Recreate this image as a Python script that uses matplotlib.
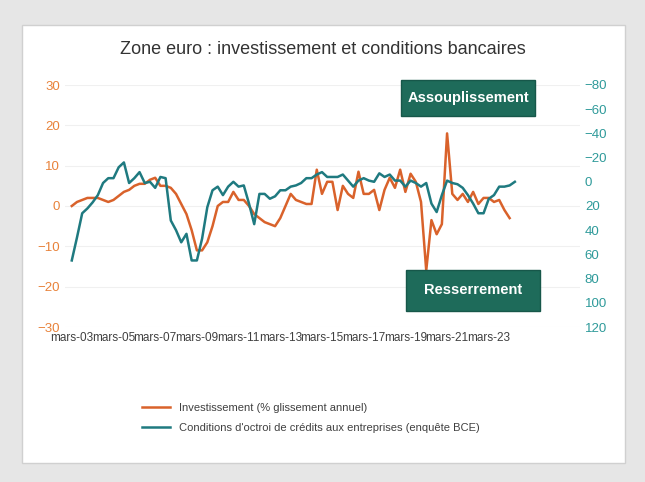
import matplotlib.pyplot as plt
from matplotlib.patches import Rectangle

plt.rcParams["font.family"] = "Liberation Sans"

# ----- Data (quarterly, from Q1 2003) -----
investissement = [0, 1, 1.5, 2, 2, 2, 1.5, 1, 1.5, 2.5, 3.5, 4, 5, 5.5, 5.5, 6.5,
                  7, 5, 5, 4.5, 3, 0.5, -2, -6, -11, -11, -9, -5, 0, 1, 1, 3.5,
                  1.5, 1.5, 0, -2, -3, -4, -4.5, -5, -3, 0, 3, 1.5, 1, 0.5, 0.5, 9,
                  3, 6, 6, -1, 5, 3, 2, 8.5, 3, 3, 4, -1, 4, 7, 4.5, 9,
                  3.5, 8, 6, 1, -16, -3.5, -7, -4.5, 18, 3, 1.5, 3, 1, 3.5, 0.5, 2,
                  2, 1, 1.5, -1, -3]
conditions = [65, 46, 26, 22, 17, 11, 1, -3, -3, -12, -16, 1, -3, -8, 1, 0,
              5, -4, -3, 32, 40, 50, 43, 65, 65, 47, 21, 7, 4, 11, 4, 0,
              4, 3, 18, 35, 10, 10, 14, 12, 7, 7, 4, 3, 1, -3, -3, -6,
              -8, -4, -4, -4, -6, -1, 4, -1, -3, -1, 0, -7, -4, -6, -1, -1,
              4, -1, 1, 4, 1, 18, 25, 11, -1, 1, 2, 5, 11, 18, 26, 26,
              14, 11, 4, 4, 3, 0]
tick_pos = list(range(0, 81, 8))
tick_labels = ["mars-%02d" % y for y in range(3, 24, 2)]

ORANGE = "#D9622B"
TEAL = "#1F7A80"

fig = plt.figure(figsize=(6.45, 4.82), dpi=100)
fig.patch.set_facecolor("#E6E6E6")
fig.patches.append(Rectangle((22 / 645, 1 - 463 / 482), 603 / 645, 438 / 482,
                             transform=fig.transFigure, facecolor="white",
                             edgecolor="#D0D0D0", lw=1, zorder=-10))

ax = fig.add_axes([65 / 645, 1 - 327 / 482, 515 / 645, 242 / 482])
ax.set_facecolor("none")
ax.plot(range(len(investissement)), investissement, color=ORANGE, lw=1.8,
        label="Investissement (% glissement annuel)")
ax.set_ylim(-30, 30)
ax.set_yticks(range(-30, 31, 10))
ax.set_xlim(-1.3, 97.5)
ax.set_xticks(tick_pos)
ax.set_xticklabels(tick_labels, fontsize=8.5, color="#404040")
ax.tick_params(axis="y", colors="#E8823A", labelsize=9.5, length=0)
ax.tick_params(axis="x", length=0)
ax.grid(axis="y", color="#F0F0F0", lw=0.8)
for s in ax.spines.values():
    s.set_visible(False)

ax2 = ax.twinx()
ax2.plot(range(len(conditions)), conditions, color=TEAL, lw=1.8,
         label="Conditions d'octroi de crédits aux entreprises (enquête BCE)")
ax2.set_ylim(120, -80)
ax2.set_yticks(range(-80, 121, 20))
ax2.tick_params(axis="y", colors="#2E9A9A", labelsize=9.5, length=0)
for s in ax2.spines.values():
    s.set_visible(False)

fig.text(0.5, 1 - 50 / 482, "Zone euro : investissement et conditions bancaires",
         ha="center", va="center", fontsize=13, color="#333333")

for txt, (x0, y0, x1, y1) in [("Assouplissement", (401, 80, 535, 116)),
                              ("Resserrement", (406, 270, 540, 311))]:
    fig.patches.append(Rectangle((x0 / 645, 1 - y1 / 482), (x1 - x0) / 645,
                                 (y1 - y0) / 482, transform=fig.transFigure,
                                 facecolor="#1E6B5A", edgecolor="#17574A", zorder=5))
    fig.text((x0 + x1) / 2 / 645, 1 - (y0 + y1) / 2 / 482, txt, ha="center",
             va="center", color="white", fontsize=10.5, fontweight="bold", zorder=6)

h1, l1 = ax.get_legend_handles_labels()
h2, l2 = ax2.get_legend_handles_labels()
fig.legend(h1 + h2, l1 + l2, loc="upper left", bbox_to_anchor=(132 / 645, 1 - 393 / 482),
           frameon=False, fontsize=8, handlelength=2.5, labelspacing=0.9,
           labelcolor="#404040")

fig.savefig("out.png", dpi=100)
